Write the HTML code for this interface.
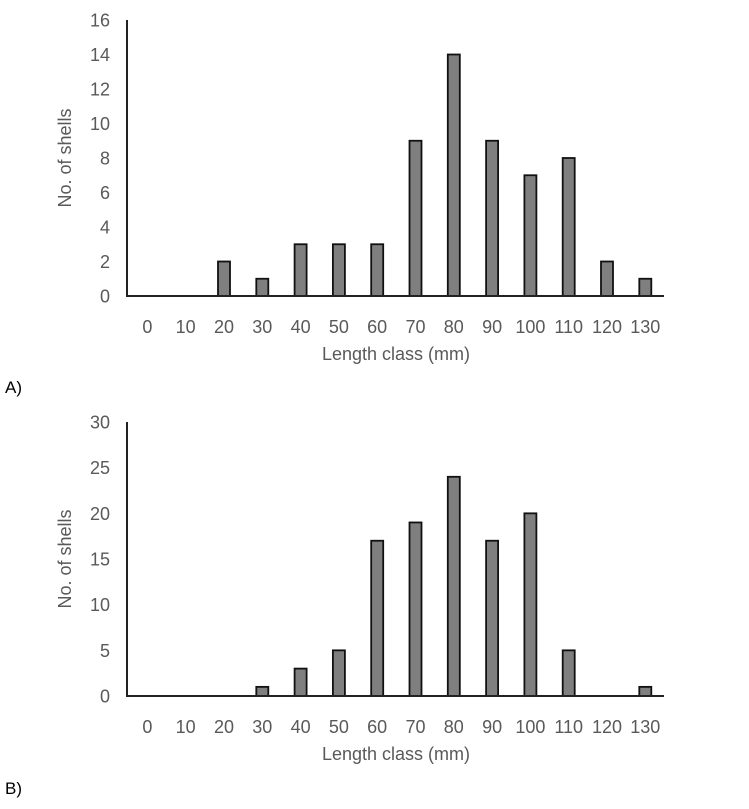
<!DOCTYPE html>
<html><head><meta charset="utf-8"><style>
body{margin:0;background:#fff;}
svg{display:block;font-family:"Liberation Sans",Arial,sans-serif;}
</style></head><body>
<svg id="s" width="749" height="809"></svg>
<script>
const categories=[0,10,20,30,40,50,60,70,80,90,100,110,120,130];
const countsA=[0,0,2,1,3,3,3,9,14,9,7,8,2,1];
const countsB=[0,0,0,1,3,5,17,19,24,17,20,5,0,1];
const ticksA=[0,2,4,6,8,10,12,14,16];
const ticksB=[0,5,10,15,20,25,30];
const NS='http://www.w3.org/2000/svg';
const svg=document.getElementById('s');
function mk(tag,attrs,parent,text){const e=document.createElementNS(NS,tag);for(const k in attrs)e.setAttribute(k,attrs[k]);if(text!==undefined)e.textContent=text;(parent||svg).appendChild(e);return e;}
function chart(id,data,ticks,top,base,panel,panelY){
  const g=mk('g',{});
  
  
  const ymax=ticks[ticks.length-1];
  const y=v=>base-(base-top)*v/ymax;
  const x=i=>147.4+38.3*i;
  ticks.forEach(t=>{const e=mk('text',{x:110,y:y(t)+6.5,'text-anchor':'end','font-size':18,fill:'#595959'},g,t);
    
    });
  categories.forEach((c,i)=>{const e=mk('text',{x:x(i),y:base+37,'text-anchor':'middle','font-size':18,fill:'#595959'},g,c);
    
    });
  data.forEach((v,i)=>{if(v<=0)return;const r=mk('rect',{x:x(i)-6,y:y(v),width:12,height:base-y(v),fill:'#7f7f7f',stroke:'#111','stroke-width':1.8},g);
    
    });
  const ax=mk('path',{d:`M127 ${top} V${base} H664`,fill:'none',stroke:'#222','stroke-width':2},g);
  
  
  const cy=(top+base)/2;
  const yt=mk('text',{x:0,y:0,transform:`translate(71 ${cy}) rotate(-90)`,'text-anchor':'middle','font-size':18,fill:'#595959'},g,'No. of shells');
  
  
  const xt=mk('text',{x:396,y:base+64,'text-anchor':'middle','font-size':18,fill:'#595959'},g,'Length class (mm)');
  
  
  const pl=mk('text',{x:5,y:panelY,'font-size':17,fill:'#000'},g,panel);
  
  
}
chart('a',countsA,ticksA,20,296,'A)',393);
chart('b',countsB,ticksB,422,696,'B)',794);
</script>
</body></html>
